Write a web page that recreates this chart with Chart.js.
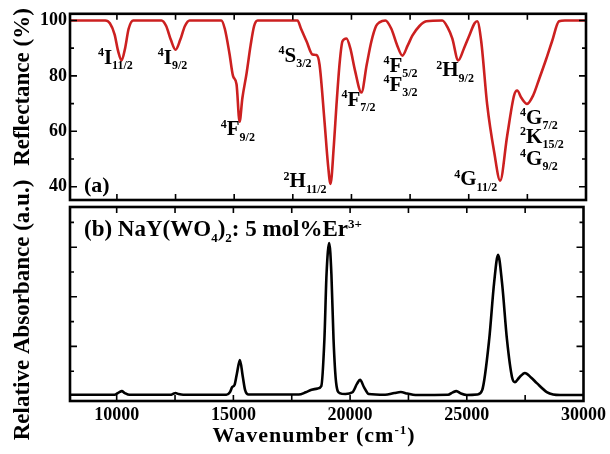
<!DOCTYPE html>
<html>
<head>
<meta charset="utf-8">
<script src="https://cdn.jsdelivr.net/npm/chart.js@4.4.0/dist/chart.umd.min.js"></script>
<style>
  html, body { margin: 0; padding: 0; background: #fff; }
  #wrap { position: relative; width: 610px; height: 454px; }
  #wrap canvas { position: absolute; left: 0; top: 0; }
</style>
</head>
<body>
<div id="wrap">
  <canvas id="chart-abs" width="610" height="454"></canvas>
  <canvas id="chart-refl" width="610" height="454"></canvas>
</div>
<script>
// ---- datos ----
const wnRefl = [8000, 9500, 9700, 9900, 10050, 10200, 10350, 10500, 10700, 11900, 12100, 12300, 12500, 12700, 12900, 13100,
  14450, 14600, 14800, 14950, 15100, 15230, 15350, 15530, 15700, 15850, 16000, 17700, 17850, 18085, 18340, 18510, 18640,
  18850, 19000, 19106, 19250, 19362, 19500, 19617, 19787, 19950, 20150, 20426, 20650, 20851, 21050, 21191, 21447, 21700,
  21950, 22170, 22400, 22596, 22900, 23191, 23870, 24100, 24298, 24553, 24800, 25021, 25250, 25362, 25532, 25787, 26085,
  26340, 26638, 26936, 27064, 27250, 27489, 27750, 28000, 28300, 28553, 28851, 29100, 30000];
const reflectance = [100, 100, 99, 95, 89, 85.6, 90, 97, 100, 100, 98, 93, 89.4, 93, 98, 100,
  100, 97, 88, 80, 77, 63.5, 72, 81, 91, 98, 100, 100, 97, 92.5, 87.7, 87.5, 84,
  63.7, 48, 41, 55, 69.6, 85, 92.5, 93.5, 90, 82, 74, 84, 92.5, 98, 99.3, 100, 97,
  91, 87.3, 91, 94.5, 98, 99.7, 100, 97.5, 93.5, 85.6, 90, 94.5, 99, 99.7, 92.5, 69.6, 52.5,
  42.2, 58.3, 73, 74.7, 72, 69.9, 73, 78.8, 86, 92.5, 99.7, 100, 100];

const wnAbs = [8000, 9900, 10100, 10220, 10350, 10550, 12300, 12450, 12520, 12650, 12850, 14700, 14850, 14950, 15050, 15150,
  15280, 15400, 15500, 15650, 17800, 18100, 18350, 18600, 18766, 18900, 18990, 19106, 19200, 19290, 19400, 19550, 19800,
  20100, 20300, 20426, 20600, 20800, 21500, 21900, 22170, 22450, 22800, 24200, 24400, 24553, 24750, 25000, 25450, 25660,
  25957, 26170, 26340, 26510, 26723, 26936, 27064, 27250, 27489, 27750, 28000, 28426, 28700, 29000, 30000];
const absorbance = [0.05, 0.05, 0.15, 0.2, 0.12, 0.05, 0.05, 0.1, 0.12, 0.08, 0.05, 0.05, 0.15, 0.36, 0.45, 0.9,
  1.45, 0.8, 0.25, 0.06, 0.06, 0.15, 0.25, 0.3, 0.4, 2.3, 4.9, 6.17, 4.9, 2.3, 0.55, 0.12, 0.08,
  0.15, 0.5, 0.65, 0.35, 0.08, 0.05, 0.12, 0.16, 0.1, 0.04, 0.05, 0.15, 0.2, 0.1, 0.04, 0.06, 0.24,
  2.26, 4.56, 5.69, 4.56, 2.26, 0.77, 0.56, 0.75, 0.93, 0.75, 0.52, 0.16, 0.06, 0.04, 0.04];

const xTickLabels = [10000, 15000, 20000, 25000, 30000];
const xTickMarks  = [10000, 12500, 15000, 17500, 20000, 22500, 25000, 27500];
const yTicksRefl  = [40, 60, 80, 100];
const yMarksRefl  = [40, 50, 60, 70, 80, 90, 100];
const yMarksAbs   = [1, 2, 3, 4, 5, 6, 7];

// niveles de Er3+ (texto) y su ancla en coordenadas de datos
const levelText = [
  [['4', 'sup'], ['I', ''], ['11/2', 'sub']],
  [['4', 'sup'], ['I', ''], ['9/2', 'sub']],
  [['4', 'sup'], ['F', ''], ['9/2', 'sub']],
  [['4', 'sup'], ['S', ''], ['3/2', 'sub']],
  [['2', 'sup'], ['H', ''], ['11/2', 'sub']],
  [['4', 'sup'], ['F', ''], ['7/2', 'sub']],
  [['4', 'sup'], ['F', ''], ['5/2', 'sub']],
  [['4', 'sup'], ['F', ''], ['3/2', 'sub']],
  [['2', 'sup'], ['H', ''], ['9/2', 'sub']],
  [['4', 'sup'], ['G', ''], ['11/2', 'sub']],
  [['4', 'sup'], ['G', ''], ['7/2', 'sub']],
  [['2', 'sup'], ['K', ''], ['15/2', 'sub']],
  [['4', 'sup'], ['G', ''], ['9/2', 'sub']]
];
const levelX = [9191, 11745, 14426, 16894, 17106, 19574, 21362, 21362, 23617, 24383, 27191, 27191, 27191];
const levelY = [84.3, 84.3, 58.6, 85, 39.8, 69.2, 81.5, 74.7, 79.8, 40.5, 62.7, 55.9, 48];

const SERIF = "'Liberation Serif', 'Times New Roman', serif";
const RED = 'rgb(204,32,32)';

// texto con super/subíndices
function drawRich(ctx, x, y, parts, size, small) {
  let cx = x;
  parts.forEach(([t, k]) => {
    const fs = k ? small : size;
    ctx.font = `bold ${fs}px ${SERIF}`;
    const dy = k === 'sup' ? -size * 0.36 : k === 'sub' ? size * 0.26 : 0;
    ctx.fillText(t, cx, y + dy);
    cx += ctx.measureText(t).width;
  });
  return cx - x;
}
function richWidth(ctx, parts, size, small) {
  let w = 0;
  parts.forEach(([t, k]) => {
    ctx.font = `bold ${k ? small : size}px ${SERIF}`;
    w += ctx.measureText(t).width;
  });
  return w;
}

// marco + ticks hacia dentro
const framePlugin = {
  id: 'frame',
  afterDatasetsDraw(chart, args, opts) {
    const { ctx, chartArea: a, scales: { x, y } } = chart;
    ctx.save();
    ctx.strokeStyle = '#000';
    ctx.lineWidth = 1.6;
    ctx.beginPath();
    opts.xMarks.forEach(v => {
      const px = x.getPixelForValue(v);
      ctx.moveTo(px, a.top); ctx.lineTo(px, a.top + 6);
      ctx.moveTo(px, a.bottom); ctx.lineTo(px, a.bottom - 6);
    });
    opts.yMarks.forEach(v => {
      const py = y.getPixelForValue(v);
      const len = opts.yMajor(v) ? 7 : 4;
      ctx.moveTo(a.left, py); ctx.lineTo(a.left + len, py);
      ctx.moveTo(a.right, py); ctx.lineTo(a.right - len, py);
    });
    ctx.stroke();
    ctx.lineWidth = 2.6;
    ctx.strokeRect(a.left, a.top, a.right - a.left, a.bottom - a.top);
    ctx.restore();
  }
};

const labelsTop = {
  id: 'labelsTop',
  afterDraw(chart) {
    const { ctx, scales: { x, y } } = chart;
    ctx.save();
    ctx.fillStyle = '#000';
    ctx.textBaseline = 'alphabetic';
    ctx.textAlign = 'left';
    levelText.forEach((parts, i) => {
      drawRich(ctx, x.getPixelForValue(levelX[i]), y.getPixelForValue(levelY[i]), parts, 21, 12);
    });
    ctx.font = `bold 22px ${SERIF}`;
    ctx.fillText('(a)', 84, 192);

    // títulos del eje y (rotados)
    ctx.font = `bold 23px ${SERIF}`;
    ctx.textAlign = 'center';
    ctx.save();
    ctx.translate(29, 87); ctx.rotate(-Math.PI / 2);
    ctx.fillText('Reflectance (%)', 0, 0);
    ctx.restore();
    ctx.save();
    ctx.translate(29, 310); ctx.rotate(-Math.PI / 2);
    ctx.fillText('Relative Absorbance (a.u.)', 0, 0);
    ctx.restore();
    ctx.restore();
  }
};

const labelsBottom = {
  id: 'labelsBottom',
  afterDraw(chart) {
    const { ctx } = chart;
    ctx.save();
    ctx.fillStyle = '#000';
    ctx.textAlign = 'left';
    ctx.textBaseline = 'alphabetic';
    drawRich(ctx, 84, 236, [['(b) NaY(WO', ''], ['4', 'sub'], [')', ''], ['2', 'sub'], [': 5 mol%Er', ''], ['3+', 'sup']], 23, 13);

    const title = [['Wavenumber (cm', ''], ['-1', 'sup'], [')', '']];
    if ('letterSpacing' in ctx) ctx.letterSpacing = '1px';
    const w = richWidth(ctx, title, 22, 13);
    drawRich(ctx, 314 - w / 2, 442, title, 22, 13);
    ctx.restore();
  }
};

const tickFont = { family: SERIF, weight: 'bold', size: 18 };

new Chart(document.getElementById('chart-refl'), {
  type: 'line',
  data: {
    datasets: [{
      data: wnRefl.map((w, i) => ({ x: w, y: reflectance[i] })),
      borderColor: RED, borderWidth: 2.6, pointRadius: 0,
      cubicInterpolationMode: 'monotone', fill: false
    }]
  },
  options: {
    responsive: false, animation: false,
    layout: { padding: { top: 4, right: 24, bottom: 254, left: 0 } },
    plugins: { legend: { display: false }, tooltip: { enabled: false },
      frame: { xMarks: xTickMarks, yMarks: yMarksRefl, yMajor: v => v % 20 === 0 } },
    scales: {
      x: { type: 'linear', min: 8000, max: 30000, display: false },
      y: {
        min: 35.2, max: 102.4,
        afterBuildTicks: s => { s.ticks = yTicksRefl.map(v => ({ value: v })); },
        afterFit: s => { s.width = 70; },
        grid: { display: false, drawTicks: false }, border: { display: false },
        ticks: { font: tickFont, color: '#000', padding: 3 }
      }
    }
  },
  plugins: [framePlugin, labelsTop]
});

new Chart(document.getElementById('chart-abs'), {
  type: 'line',
  data: {
    datasets: [{
      data: wnAbs.map((w, i) => ({ x: w, y: absorbance[i] })),
      borderColor: '#000', borderWidth: 2.6, pointRadius: 0,
      cubicInterpolationMode: 'monotone', fill: false
    }]
  },
  options: {
    responsive: false, animation: false,
    layout: { padding: { top: 207, right: 24, bottom: 0, left: 0 } },
    plugins: { legend: { display: false }, tooltip: { enabled: false },
      frame: { xMarks: xTickMarks, yMarks: yMarksAbs, yMajor: v => v % 2 === 0 } },
    scales: {
      x: {
        type: 'linear', min: 8000, max: 30000,
        afterBuildTicks: s => { s.ticks = xTickLabels.map(v => ({ value: v })); },
        afterFit: s => { s.height = 53; },
        grid: { display: false, drawTicks: false }, border: { display: false },
        ticks: { font: tickFont, color: '#000', padding: 4, maxRotation: 0, autoSkip: false, callback: v => String(v) }
      },
      y: {
        min: -0.2, max: 7.62,
        afterFit: s => { s.width = 70; },
        grid: { display: false, drawTicks: false }, border: { display: false },
        ticks: { display: false }
      }
    }
  },
  plugins: [framePlugin, labelsBottom]
});
</script>
</body>
</html>
